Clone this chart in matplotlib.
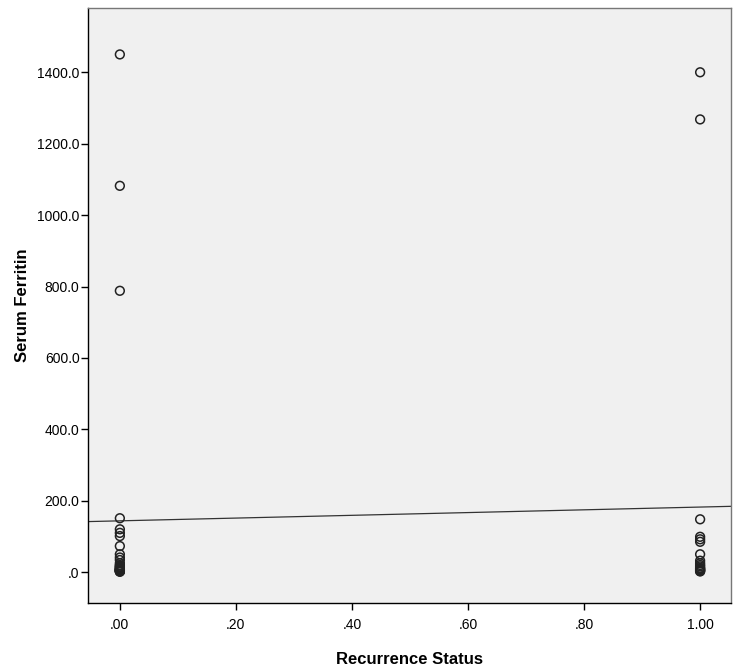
import numpy as np
import matplotlib.pyplot as plt

plt.rcParams['font.family'] = ['Liberation Sans', 'DejaVu Sans']

# Serum ferritin by recurrence status
ferritin_no = [1450, 1082, 788, 151, 120, 110, 101, 73, 50, 41, 34,
               25, 20, 18, 15, 14, 12, 10, 9, 8, 7, 6, 5, 5, 4, 3, 3, 2, 1]
ferritin_yes = [1400, 1268, 148, 99, 92, 85, 50,
                32, 25, 20, 16, 12, 10, 8, 6, 5, 3, 2]

x = np.array([0.0] * len(ferritin_no) + [1.0] * len(ferritin_yes))
y = np.array(ferritin_no + ferritin_yes, dtype=float)

xticks = [0.0, 0.2, 0.4, 0.6, 0.8, 1.0]
xticklabels = ['.00', '.20', '.40', '.60', '.80', '1.00']
yticks = [0, 200, 400, 600, 800, 1000, 1200, 1400]
yticklabels = ['.0', '200.0', '400.0', '600.0', '800.0', '1000.0', '1200.0', '1400.0']

fig = plt.figure(figsize=(7.39, 6.68), dpi=100)
ax = fig.add_axes([0.119, 0.097, 0.870, 0.891])
ax.set_facecolor('#F0F0F0')

ax.scatter(x, y, s=40, facecolors='none', edgecolors='#222222', linewidths=1.1, zorder=3)

# fit line
slope, intercept = np.polyfit(x, y, 1)
xl = np.array([-0.06, 1.06])
ax.plot(xl, intercept + slope * xl, color='#333333', linewidth=0.9, zorder=2)

ax.set_xlim(-0.055, 1.053)
ax.set_ylim(-87, 1580)
ax.set_xticks(xticks)
ax.set_xticklabels(xticklabels, fontsize=10)
ax.set_yticks(yticks)
ax.set_yticklabels(yticklabels, fontsize=10)
ax.tick_params(direction='out', length=5, width=1, color='black', pad=1)
ax.tick_params(axis='x', pad=6)

for s in ['left', 'bottom']:
    ax.spines[s].set_color('black')
    ax.spines[s].set_linewidth(1)
for s in ['top', 'right']:
    ax.spines[s].set_color('#777777')
    ax.spines[s].set_linewidth(1)

ax.set_xlabel('Recurrence Status', fontsize=12, fontweight='bold', labelpad=14)
ax.set_ylabel('Serum Ferritin', fontsize=12, fontweight='bold', labelpad=5)

plt.savefig('out.png', dpi=100)
